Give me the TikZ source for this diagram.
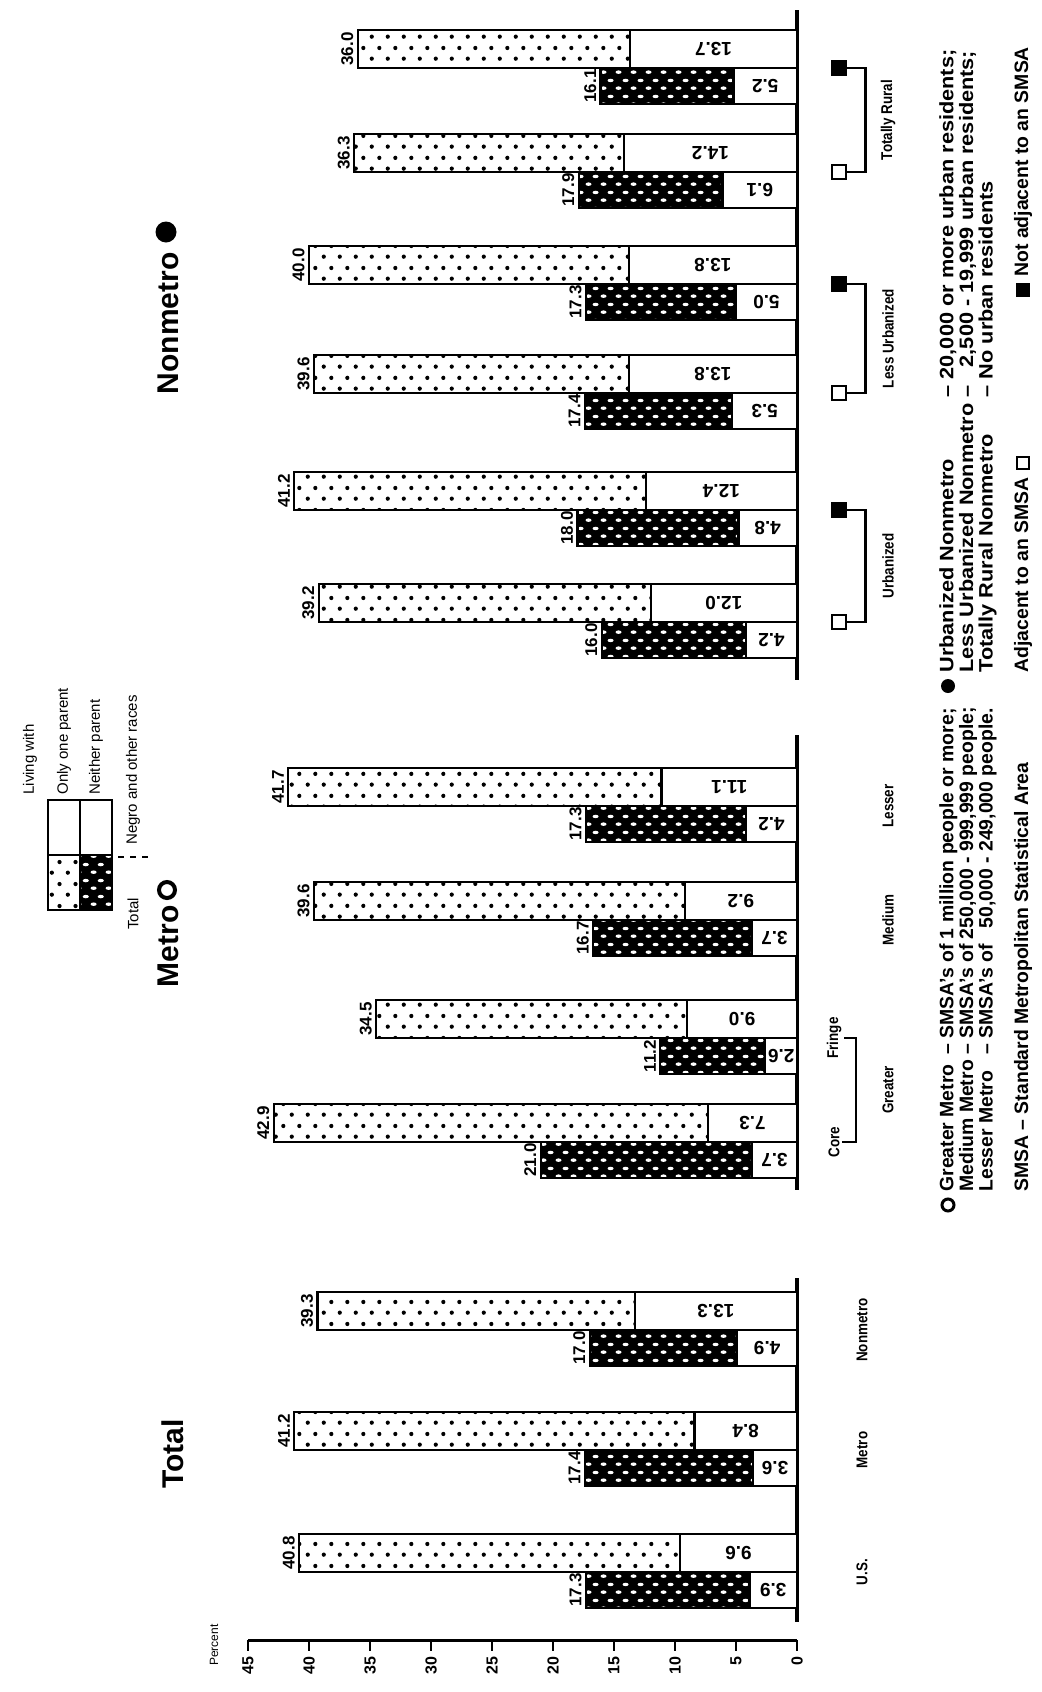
\documentclass[tikz,border=0pt]{standalone}
\usepackage{fontspec}
\setmainfont{Liberation Sans}
\newfontfamily\condfont[FakeStretch=0.86]{Liberation Sans}
\newfontfamily\widefont[FakeStretch=1.12]{Liberation Sans}
\usetikzlibrary{patterns.meta,calc}

\tikzdeclarepattern{name=stipple, type=uncolored,
  bottom left={(0pt,0pt)}, top right={(8pt,11pt)}, tile size={(8pt,11pt)},
  code={\fill (2pt,2.75pt) circle (1.1pt); \fill (6pt,8.25pt) circle (1.1pt);}}
\tikzdeclarepattern{name=weave, type=uncolored,
  bottom left={(0pt,0pt)}, top right={(7.5pt,8pt)}, tile size={(7.5pt,8pt)},
  code={\fill (1.875pt,2pt) ellipse (1.6pt and 0.9pt); \fill (5.625pt,6pt) ellipse (1.6pt and 0.9pt);}}

\begin{document}
\begin{tikzpicture}[x=0.5pt,y=-0.5pt,
    bar/.style={draw,line width=1.1pt},
    stip/.style={bar,pattern=stipple},
    chk/.style={bar,preaction={fill=black},pattern=weave,pattern color=white},
    seg/.style={bar,fill=white},
    num/.style={font=\bfseries\fontsize{8.5}{9}\selectfont,inner sep=1pt},
    inum/.style={font=\bfseries\fontsize{9.5}{10}\selectfont,inner sep=1pt,rotate=180},
    cat/.style={font=\condfont\bfseries\fontsize{7.8}{8}\selectfont,rotate=90,inner sep=1pt},
    title/.style={font=\bfseries\fontsize{15}{16}\selectfont,rotate=90,inner sep=0pt},
    note/.style={font=\fontsize{7.5}{8}\selectfont,rotate=90,inner sep=0pt},
    defs/.style={font=\bfseries\fontsize{9.7}{9.3}\selectfont,rotate=90,inner sep=0pt},
    osq/.style={draw,line width=1.3pt,minimum size=7pt,inner sep=0pt},
    fsq/.style={osq,fill=black},
    ocirc/.style={circle,draw,line width=2pt,minimum size=8pt,inner sep=0pt},
    fcirc/.style={circle,fill,minimum size=10.5pt,inner sep=0pt}]

    \useasboundingbox (0,0) rectangle (1042,1692);

    % Baselines of the three panels
    \draw[line width=1.6pt] (797,10) -- (797,680);
    \draw[line width=1.6pt] (797,735) -- (797,1190);
    \draw[line width=1.6pt] (797,1278) -- (797,1622);

    % Bars: position / only one parent (total, negro) / neither parent (total, negro)
    \foreach \c/\ta/\na/\tb/\nb in {1572/40.8/9.6/17.3/3.9, 1450/41.2/8.4/17.4/3.6,
        1330/39.3/13.3/17.0/4.9, 1142/42.9/7.3/21.0/3.7, 1038/34.5/9.0/11.2/2.6,
        920/39.6/9.2/16.7/3.7, 806/41.7/11.1/17.3/4.2, 622/39.2/12.0/16.0/4.2,
        510/41.2/12.4/18.0/4.8, 393/39.6/13.8/17.4/5.3, 284/40.0/13.8/17.3/5.0,
        172/36.3/14.2/17.9/6.1, 68/36.0/13.7/16.1/5.2}{
        \pgfmathsetmacro\xa{797-12.2*\ta}
        \pgfmathsetmacro\xna{797-12.2*\na}
        \pgfmathsetmacro\xb{797-12.2*\tb}
        \pgfmathsetmacro\xnb{797-12.2*\nb}
        \draw[stip] (\xa,\c-38) rectangle (797,\c);
        \draw[seg] (\xna,\c-38) rectangle (797,\c);
        \draw[chk] (\xb,\c) rectangle (797,\c+36);
        \draw[seg] (\xnb,\c) rectangle (797,\c+36);
        \node[num,rotate=90,anchor=south] (ta\c) at (\xa-2,\c-19) {\ta};
        \node[num,rotate=90,anchor=south] (tb\c) at (\xb-2,\c+18) {\tb};
        \node[inum] (na\c) at ({(\xna+797)/2},\c-19) {\na};
        \node[inum] (nb\c) at ({(\xnb+797)/2},\c+18) {\nb};
    }

    % Percent axis
    \draw[line width=1.5pt] (248,1640) -- (797,1640);
    \foreach \p in {0,5,...,45}{
        \draw[line width=1.2pt] ({797-12.2*\p},1640) -- ({797-12.2*\p},1651);
        \node[note,font=\bfseries\fontsize{8}{8}\selectfont,anchor=east] (p\p) at ({797-12.2*\p},1656) {\p};
    }
    \node[note,font=\fontsize{6}{6}\selectfont] (pct) at (214,1645) {Percent};

    % Panel titles
    \node[title] (ttot) at (173,1454) {Total};
    \node[title,anchor=east] (tmet) at (168,905) {Metro};
    \node[ocirc] (cmet) at (167,890) {};
    \node[title,anchor=east] (tnon) at (168,252) {Nonmetro};
    \node[fcirc] (cnon) at (166,232) {};

    % Legend
    \draw[seg] (48,800) rectangle (80,855);
    \draw[seg] (80,800) rectangle (112,855);
    \draw[stip] (48,855) rectangle (80,910);
    \draw[chk] (80,855) rectangle (112,910);
    \node[note,anchor=west] (lw) at (30,795) {Living with};
    \node[note,anchor=west] (lone) at (64,795) {Only one parent};
    \node[note,anchor=west] (lnei) at (96,795) {Neither parent};
    \node[note,anchor=west] (ltot) at (133,930) {Total};
    \node[note,anchor=west] (lneg) at (133,845) {Negro and other races};
    \draw[dashed,line width=1pt] (118,857) -- (150,857);

    % Category labels, total panel
    \node[cat] (us) at (862,1572) {U.S.};
    \node[cat] (mt) at (862,1450) {Metro};
    \node[cat] (nm) at (862,1330) {Nonmetro};

    % Category labels, metro panel
    \node[cat] (core) at (834,1142) {Core};
    \node[cat] (fringe) at (834,1038) {Fringe};
    \draw[line width=1.2pt] (core.south) -- ++(14,0) |- (fringe.south);
    \node[cat] (greater) at (888,1090) {Greater};
    \node[cat] (medium) at (888,920) {Medium};
    \node[cat] (lesser) at (888,806) {Lesser};

    % Category labels, nonmetro panel
    \foreach \a/\n/\lab in {622/510/Urbanized, 393/284/Less Urbanized, 172/68/Totally Rural}{
        \node[osq] (adj\a) at (839,\a) {};
        \node[fsq] (nadj\n) at (839,\n) {};
        \draw[line width=1.2pt] (adj\a.east) -- ++(18,0) |- (nadj\n.east);
        \node[cat] (lab\a) at (888,{(\a+\n)/2}) {\lab};
    }

    % Definitions
    \node[ocirc,minimum size=6pt,line width=1.5pt] (dmet) at (948,1205) {};
    \node[defs,anchor=north west] (mdef) at (939,1192) {%
        \begin{tabular}{@{}l@{\ \textendash\ }l@{}}
        Greater Metro & SMSA's of 1 million people or more;\\
        Medium Metro & SMSA's of 250,000 - 999,999 people;\\
        Lesser Metro & SMSA's of \phantom{2}50,000 - 249,000 people.
        \end{tabular}};
    \node[defs,anchor=west] (smsa) at (1023,1192) {SMSA \textendash\ Standard Metropolitan Statistical Area};

    \node[fcirc,minimum size=7pt] (dnon) at (948,686) {};
    \node[defs,font=\widefont\bfseries\fontsize{9.7}{9.3}\selectfont,anchor=north west] (ndef) at (939,673) {%
        \begin{tabular}{@{}l@{\ \textendash\ }l@{}}
        Urbanized Nonmetro & 20,000 or more urban residents;\\
        Less Urbanized Nonmetro & \phantom{0}2,500 - 19,999 urban residents;\\
        Totally Rural Nonmetro & No urban residents
        \end{tabular}};
    \node[defs,anchor=west] (adj) at (1023,673) {Adjacent to an SMSA};
    \node[osq,minimum size=6pt] (adjsq) at ($(adj.east)+(0,-14)$) {};
    \node[fsq,minimum size=6pt] (nadjsq) at (1023,290) {};
    \node[defs,anchor=west] (nadj) at (1023,277) {Not adjacent to an SMSA};

\end{tikzpicture}
\end{document}
